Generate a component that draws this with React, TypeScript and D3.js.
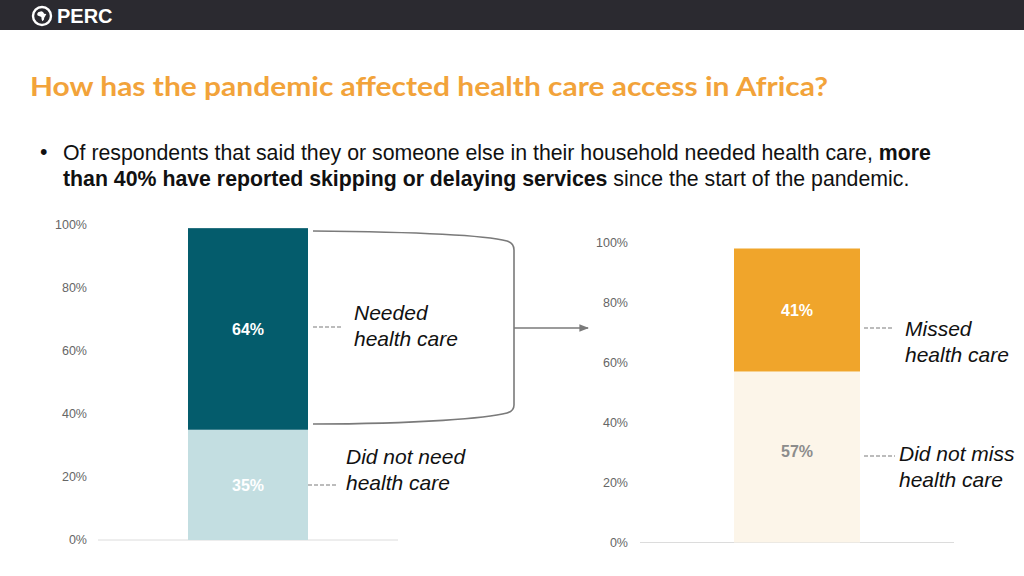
import React from "react";
import * as d3 from "d3";

// ---- data ----
const leftCategory = ["Household"];
const leftSegments = ["Did not need health care", "Needed health care"];
const leftValues = [35, 64];
const leftLabels = ["35%", "64%"];

const rightCategory = ["Needed care"];
const rightSegments = ["Did not miss health care", "Missed health care"];
const rightValues = [57, 41];
const rightLabels = ["57%", "41%"];

const yTicks = [0, 20, 40, 60, 80, 100];

const leftColors = ["#c3dee1", "#045c6c"];
const rightColors = ["#fcf5e9", "#f0a52b"];
const leftLabelColors = ["#ffffff", "#ffffff"];
const rightLabelColors = ["#8c8c8c", "#ffffff"];

const title = "How has the pandemic affected health care access in Africa?";

function stackSegments(values: number[]) {
  let acc = 0;
  return values.map((v) => {
    const s = { y0: acc, y1: acc + v, v };
    acc += v;
    return s;
  });
}

const africaPts: [number, number][] = [
  [-0.55, -0.55], [-0.1, -0.68], [0.15, -0.58], [0.3, -0.32], [0.62, -0.27],
  [0.45, 0.05], [0.32, 0.25], [0.27, 0.55], [0.05, 0.75], [-0.05, 0.5],
  [-0.1, 0.15], [-0.35, 0.02], [-0.62, -0.08], [-0.7, -0.3],
];

export default function App() {
  const W = 1024;
  const H = 576;

  // left chart scales
  const yL = d3.scaleLinear().domain([0, 100]).range([540, 225]);
  const xL = d3.scaleBand().domain(leftCategory).range([98, 398]).paddingInner(0).paddingOuter(0.75);
  // right chart scales
  const yR = d3.scaleLinear().domain([0, 100]).range([542.5, 242.5]);
  const xR = d3.scaleBand().domain(rightCategory).range([640, 954]).paddingInner(0).paddingOuter(0.746);

  const segL = stackSegments(leftValues);
  const segR = stackSegments(rightValues);
  const fmt = (d: number) => `${d}%`;

  const axisFont = "'Liberation Sans', Arial, sans-serif";

  const bracket =
    "M313,231 C420,232 488,236 507,241 Q514,243 514,250 L514,405 Q514,411 507,413 C488,418 420,424 313,424";

  const africaPath = d3.line()(africaPts.map(([x, y]) => [42 + x * 7, 16 + y * 7]))! + "Z";

  const lx = xL(leftCategory[0])!;
  const lw = xL.bandwidth();
  const rx = xR(rightCategory[0])!;
  const rw = xR.bandwidth();

  const dash = { stroke: "#7a7a7a", strokeDasharray: "4,2", strokeWidth: 1.2 };

  return (
    <svg
      width={W}
      height={H}
      viewBox={`0 0 ${W} ${H}`}
      style={{ position: "absolute", left: 0, top: 0, background: "#fff" }}
    >
      <defs>
        <marker id="arr" viewBox="0 0 10 10" refX="9" refY="5" markerWidth="6" markerHeight="6" orient="auto">
          <path d="M0,1 L10,5 L0,9 Z" fill="#7a7a7a" />
        </marker>
      </defs>
      <rect x={0} y={0} width={W} height={H} fill="#ffffff" />
      {/* header */}
      <rect x={0} y={0} width={W} height={30} fill="#2b2a30" />
      <circle cx={42} cy={16} r={9} fill="none" stroke="#ffffff" strokeWidth={2.4} />
      <path d={africaPath} fill="#ffffff" />
      <text x={57} y={23} fill="#ffffff" fontFamily={axisFont} fontWeight="bold" fontSize={20}>
        PERC
      </text>

      {/* title */}
      <text
        x={30}
        y={96}
        fill="#f2a33a"
        fontFamily="Lato, 'Open Sans', sans-serif"
        fontWeight="bold"
        fontSize={27}
        textLength={798}
        lengthAdjust="spacingAndGlyphs"
      >
        {title}
      </text>

      {/* bullet */}
      <g fontFamily={axisFont} fontSize={21.3} fill="#111">
        <text x={40} y={159}>•</text>
        <text x={63} y={160}>
          Of respondents that said they or someone else in their household needed health care,{" "}
          <tspan fontWeight="bold">more</tspan>
        </text>
        <text x={63} y={186}>
          <tspan fontWeight="bold">than 40% have reported skipping or delaying services</tspan> since the start of the pandemic.
        </text>
      </g>

      {/* left chart */}
      <g>
        {yTicks.map((t) => (
          <text
            key={t}
            x={87}
            y={yL(t) + 1}
            textAnchor="end"
            dominantBaseline="middle"
            fontFamily={axisFont}
            fontSize={12.5}
            fill="#666"
          >
            {fmt(t)}
          </text>
        ))}
        <line x1={98} x2={398} y1={yL(0)} y2={yL(0)} stroke="#dcdcdc" strokeWidth={1} />
        {segL.map((s, i) => (
          <rect
            key={leftSegments[i]}
            x={lx}
            width={lw}
            y={yL(s.y1)}
            height={yL(s.y0) - yL(s.y1)}
            fill={leftColors[i]}
          />
        ))}
        {segL.map((s, i) => (
          <text
            key={"l" + i}
            x={lx + lw / 2}
            y={(yL(s.y0) + yL(s.y1)) / 2 + 2}
            textAnchor="middle"
            dominantBaseline="middle"
            fontFamily={axisFont}
            fontWeight="bold"
            fontSize={16}
            fill={leftLabelColors[i]}
          >
            {leftLabels[i]}
          </text>
        ))}
      </g>

      {/* bracket + arrow */}
      <path d={bracket} fill="none" stroke="#7a7a7a" strokeWidth={1.6} />
      <line x1={514} x2={588} y1={328} y2={328} stroke="#7a7a7a" strokeWidth={1.6} markerEnd="url(#arr)" />

      {/* left annotations */}
      <g fontFamily={axisFont} fontStyle="italic" fontSize={21} fill="#111">
        <line x1={313} x2={343} y1={327} y2={327} {...dash} />
        <text x={354} y={320}>Needed</text>
        <text x={354} y={346}>health care</text>
        <line x1={308} x2={338} y1={485} y2={485} {...dash} />
        <text x={346} y={464}>Did not need</text>
        <text x={346} y={490}>health care</text>
      </g>

      {/* right chart */}
      <g>
        {yTicks.map((t) => (
          <text
            key={t}
            x={628}
            y={yR(t) + 1.5}
            textAnchor="end"
            dominantBaseline="middle"
            fontFamily={axisFont}
            fontSize={12.5}
            fill="#666"
          >
            {fmt(t)}
          </text>
        ))}
        <line x1={640} x2={954} y1={yR(0)} y2={yR(0)} stroke="#dcdcdc" strokeWidth={1} />
        {segR.map((s, i) => (
          <rect
            key={rightSegments[i]}
            x={rx}
            width={rw}
            y={yR(s.y1)}
            height={yR(s.y0) - yR(s.y1)}
            fill={rightColors[i]}
          />
        ))}
        {segR.map((s, i) => (
          <text
            key={"r" + i}
            x={rx + rw / 2}
            y={(yR(s.y0) + yR(s.y1)) / 2 + 2 - (i === 0 ? 6 : 0)}
            textAnchor="middle"
            dominantBaseline="middle"
            fontFamily={axisFont}
            fontWeight="bold"
            fontSize={16}
            fill={rightLabelColors[i]}
          >
            {rightLabels[i]}
          </text>
        ))}
      </g>

      {/* right annotations */}
      <g fontFamily={axisFont} fontStyle="italic" fontSize={21} fill="#111">
        <line x1={864} x2={894} y1={328} y2={328} {...dash} />
        <text x={905} y={336}>Missed</text>
        <text x={905} y={362}>health care</text>
        <line x1={864} x2={895} y1={456} y2={456} {...dash} />
        <text x={899} y={461}>Did not miss</text>
        <text x={899} y={487}>health care</text>
      </g>
    </svg>
  );
}
